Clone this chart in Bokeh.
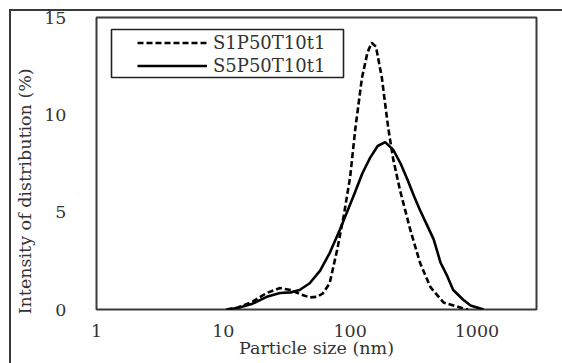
from bokeh.plotting import figure
from bokeh.models import (FixedTicker, Range1d, Legend, LegendItem, BoxAnnotation)
from bokeh.embed import file_html
from bokeh.resources import INLINE

# ---- data ----
s1_size = [10.6, 13, 17, 22, 28, 34, 40, 48, 55, 61, 69, 79, 89, 100, 110, 124, 137, 148,
           160, 178, 200, 219, 248, 298, 356, 430, 545, 740, 850]
s1_int = [0, 0.1, 0.4, 0.85, 1.1, 1.0, 0.8, 0.62, 0.65, 0.83, 1.35, 3.06, 4.8, 6.8, 9.3, 11.9,
          13.2, 13.7, 13.5, 11.9, 9.3, 7.7, 6.1, 4.1, 2.4, 1.15, 0.36, 0.1, 0]

s5_size = [10.6, 13, 17, 22, 28, 34, 40, 48, 58, 69, 83, 106, 125, 144, 165, 189, 219, 250,
           282, 320, 356, 400, 456, 517, 585, 650, 780, 890, 1130]
s5_int = [0, 0.08, 0.3, 0.65, 0.85, 0.88, 1.0, 1.35, 2.0, 2.9, 4.1, 5.8, 7.0, 7.8, 8.4, 8.6,
          8.2, 7.5, 6.7, 5.8, 5.1, 4.4, 3.6, 2.4, 1.7, 1.0, 0.5, 0.2, 0]

series_names = ["S1P50T10t1", "S5P50T10t1"]
x_ticks = [1, 10, 100, 1000]
x_tick_labels = ["1", "10", "100", "1000"]
y_ticks = [0, 5, 10, 15]
x_title = "Particle size (nm)"
y_title = "Intensity of distribution (%)"

FONT = "DejaVu Serif"
TXT = "#333333"
FS = "17.5px"
EDGE = "#3a3a3a"

# outer chart-area border (left and top edges), drawn behind a transparent canvas
g = "linear-gradient(%s,%s)" % (EDGE, EDGE)
host_styles = {
    "background-color": "white",
    "background-image": g + ", " + g,
    "background-size": "2px 100%, 100% 2px",
    "background-position": "9px 9px, 9px 9px",
    "background-repeat": "no-repeat",
}

p = figure(width=562, height=363, x_axis_type="log", output_backend="svg",
           toolbar_location=None, x_range=Range1d(1, 2950), y_range=Range1d(0, 15),
           min_border_left=96, min_border_right=26, min_border_top=17, min_border_bottom=54,
           styles=host_styles)

p.background_fill_color = "white"
p.border_fill_alpha = 0
p.outline_line_color = EDGE
p.outline_line_width = 2
p.grid.visible = False

r1 = p.line(s1_size, s1_int, line_color="black", line_width=2.6, line_dash="6 3")
r2 = p.line(s5_size, s5_int, line_color="black", line_width=2.6)

xa = p.xaxis[0]
xa.ticker = FixedTicker(ticks=x_ticks)
xa.major_label_overrides = {t: l for t, l in zip(x_ticks, x_tick_labels)}
xa.axis_label = x_title
ya = p.yaxis[0]
ya.ticker = FixedTicker(ticks=y_ticks)
ya.axis_label = y_title + "\u00a0" * 10
for ax in (xa, ya):
    ax.axis_line_color = None
    ax.major_tick_line_color = None
    ax.minor_tick_line_color = None
    ax.major_label_text_font = FONT
    ax.major_label_text_font_size = FS
    ax.major_label_text_color = TXT
    ax.axis_label_text_font = FONT
    ax.axis_label_text_font_size = FS
    ax.axis_label_text_color = TXT
    ax.axis_label_text_font_style = "normal"
xa.major_label_standoff = 9
xa.axis_label_standoff = -2
ya.major_label_standoff = 24
ya.axis_label_standoff = 6

legend = Legend(items=[LegendItem(label=series_names[0], renderers=[r1]),
                       LegendItem(label=series_names[1], renderers=[r2])],
                location=(40, 231), padding=1, spacing=0, margin=0,
                glyph_width=70, glyph_height=23, label_height=23, label_standoff=6,
                label_text_font=FONT, label_text_font_size="18px", label_text_color=TXT,
                border_line_alpha=0, background_fill_alpha=0)
p.add_layout(legend)

p.add_layout(BoxAnnotation(left=15, right=247, top=280, bottom=232,
                           left_units="screen", right_units="screen",
                           top_units="screen", bottom_units="screen",
                           fill_alpha=0, line_color="#222222", line_alpha=1, line_width=1.6))

open("out.html", "w").write(file_html(p, INLINE))
